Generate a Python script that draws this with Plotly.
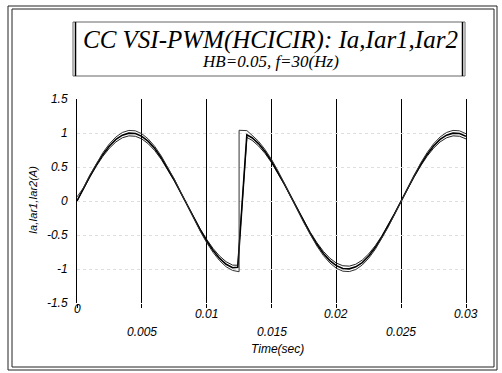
import plotly.graph_objects as go

# ---------------- data ----------------
t_pre = [0.0, 0.0005, 0.001, 0.0015, 0.002, 0.0025, 0.003, 0.0035, 0.004, 0.0045,
         0.005, 0.0055, 0.006, 0.0065, 0.007, 0.0075, 0.008, 0.0085, 0.009, 0.0095,
         0.01, 0.0105, 0.011, 0.0115, 0.012, 0.0124]
t_post = [0.0131, 0.0135, 0.014, 0.0145, 0.015, 0.0155, 0.016, 0.0165, 0.017, 0.0175,
          0.018, 0.0185, 0.019, 0.0195, 0.02, 0.0205, 0.021, 0.0215, 0.022, 0.0225,
          0.023, 0.0235, 0.024, 0.0245, 0.025, 0.0255, 0.026, 0.0265, 0.027, 0.0275,
          0.028, 0.0285, 0.029, 0.0295, 0.03]
t_jump = [0.0125, 0.0125]

ia_pre = [0.0, 0.187, 0.368, 0.536, 0.685, 0.809, 0.905, 0.969, 0.998, 0.992,
          0.951, 0.876, 0.771, 0.637, 0.482, 0.309, 0.125, -0.063, -0.249, -0.426,
          -0.588, -0.729, -0.844, -0.930, -0.982, -0.975]
ia_post = [0.974, 0.930, 0.844, 0.729, 0.588, 0.426, 0.249, 0.063, -0.125, -0.309,
           -0.482, -0.637, -0.771, -0.876, -0.951, -0.992, -0.998, -0.969, -0.905, -0.809,
           -0.685, -0.536, -0.368, -0.187, 0.0, 0.187, 0.368, 0.536, 0.685, 0.809,
           0.905, 0.969, 0.998, 0.992, 0.951]

iar1_pre = [0.06, 0.194, 0.383, 0.557, 0.712, 0.841, 0.941, 1.008, 1.038, 1.032,
            0.989, 0.911, 0.802, 0.662, 0.501, 0.321, 0.130, -0.066, -0.259, -0.443,
            -0.612, -0.758, -0.878, -0.967, -1.021, -1.039]
iar1_jump = [-1.04, 1.04]
iar1_post = [1.035, 0.967, 0.878, 0.758, 0.612, 0.443, 0.259, 0.066, -0.130, -0.321,
             -0.501, -0.662, -0.802, -0.911, -0.989, -1.032, -1.038, -1.008, -0.941, -0.841,
             -0.712, -0.557, -0.383, -0.194, 0.0, 0.194, 0.383, 0.557, 0.712, 0.841,
             0.941, 1.008, 1.038, 1.032, 0.989]

iar2_pre = [0.0, 0.180, 0.353, 0.515, 0.658, 0.777, 0.869, 0.930, 0.958, 0.952,
            0.913, 0.841, 0.740, 0.612, 0.463, 0.297, 0.120, -0.060, -0.239, -0.409,
            -0.564, -0.700, -0.810, -0.893, -0.943, -0.945]
iar2_post = [0.935, 0.893, 0.810, 0.700, 0.564, 0.409, 0.239, 0.060, -0.120, -0.297,
             -0.463, -0.612, -0.740, -0.841, -0.913, -0.952, -0.958, -0.930, -0.869, -0.777,
             -0.658, -0.515, -0.353, -0.180, 0.0, 0.180, 0.353, 0.515, 0.658, 0.777,
             0.869, 0.930, 0.958, 0.952, 0.913]

x_tick_vals = [0, 0.005, 0.01, 0.015, 0.02, 0.025, 0.03]
x_tick_text = ["0", "0.005", "0.01", "0.015", "0.02", "0.025", "0.03"]
y_tick_vals = [1.5, 1, 0.5, 0, -0.5, -1, -1.5]
y_tick_text = ["1.5", "1", "0.5", "0", "-0.5", "-1", "-1.5"]

title1 = "CC VSI-PWM(HCICIR): Ia,Iar1,Iar2"
title2 = "HB=0.05, f=30(Hz)"
x_title = "Time(sec)"
y_title = "Ia,Iar1,Iar2(A)"

# ---------------- layout geometry ----------------
W, H = 502, 373
L, R, T, B = 77, 466, 99, 303   # plot area in pixels


def px(x):
    return (x - L) / (R - L)


def py(y):
    return (B - y) / (B - T)


fig = go.Figure()
fig.add_trace(go.Scatter(x=t_pre + t_post, y=iar2_pre + iar2_post, mode="lines",
                         line=dict(color="#222", width=1), name="Iar2"))
fig.add_trace(go.Scatter(x=t_pre + t_post, y=ia_pre + ia_post, mode="lines",
                         line=dict(color="#000", width=1.6), name="Ia"))
fig.add_trace(go.Scatter(x=t_pre + t_jump + t_post, y=iar1_pre + iar1_jump + iar1_post,
                         mode="lines", line=dict(color="#333", width=1), name="Iar1"))

tick_font = dict(family="Liberation Sans, Arial", size=12, color="black", style="italic")

annotations = []
for i, (v, s) in enumerate(zip(x_tick_vals, x_tick_text)):
    ypix = 309 if i == 0 else (314 if i % 2 == 0 else 332)
    annotations.append(dict(x=v, y=py(ypix), xref="x", yref="paper", text=s,
                            showarrow=False, font=tick_font, xanchor="center",
                            yanchor="middle"))
annotations += [
    dict(x=px(277), y=py(349), xref="paper", yref="paper", text=x_title, showarrow=False,
         font=tick_font, xanchor="center", yanchor="middle"),
    dict(x=px(33), y=py(200), xref="paper", yref="paper", text=y_title, showarrow=False,
         font=dict(family="Liberation Sans, Arial", size=11, color="black", style="italic"),
         textangle=-90, xanchor="center", yanchor="middle"),
    dict(x=px(270), y=py(40), xref="paper", yref="paper", text=title1, showarrow=False,
         font=dict(family="Liberation Serif, Times New Roman", size=25, color="black",
                   style="italic"), xanchor="center", yanchor="middle"),
    dict(x=px(270), y=py(62), xref="paper", yref="paper", text=title2, showarrow=False,
         font=dict(family="Liberation Serif, Times New Roman", size=17, color="black",
                   style="italic"), xanchor="center", yanchor="middle"),
]

shapes = []
# outer double frame
for (x0, y0, x1, y1) in [(8, 6, 497, 370), (12, 9, 494, 367)]:
    shapes.append(dict(type="rect", xref="paper", yref="paper", x0=px(x0), x1=px(x1),
                       y0=py(y0), y1=py(y1), line=dict(color="#222", width=1)))
# title box
shapes.append(dict(type="rect", xref="paper", yref="paper", x0=px(73), x1=px(465),
                   y0=py(22), y1=py(76), line=dict(color="#666", width=1)))
for xx in (75.5, 462.5):
    shapes.append(dict(type="line", xref="paper", yref="paper", x0=px(xx), x1=px(xx),
                       y0=py(22), y1=py(76), line=dict(color="#000", width=1.5)))

fig.update_layout(
    width=W, height=H,
    margin=dict(l=L, r=W - R, t=T, b=H - B, pad=0),
    paper_bgcolor="white", plot_bgcolor="white",
    showlegend=False,
    annotations=annotations,
    shapes=shapes,
    xaxis=dict(range=[0, 0.03], tickvals=x_tick_vals, showticklabels=False,
               showgrid=True, gridcolor="black", gridwidth=1, zeroline=False,
               showline=False, ticks="outside", ticklen=4, tickcolor="black",
               tickwidth=1),
    yaxis=dict(range=[-1.5, 1.5], tickvals=y_tick_vals, ticktext=y_tick_text,
               tickfont=tick_font, showgrid=True, gridcolor="#dedede", griddash="dot",
               gridwidth=1, zeroline=False, showline=True, mirror=True,
               linecolor="black", linewidth=1, ticks="outside", ticklen=0,
               ticklabelstandoff=6),
)

fig.write_html("out.html")
